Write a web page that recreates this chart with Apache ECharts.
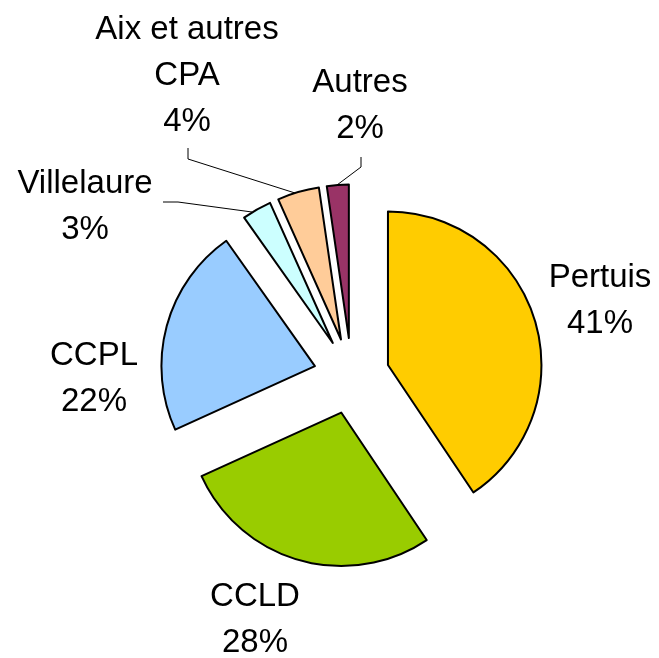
<!DOCTYPE html>
<html>
<head>
<meta charset="utf-8">
<script src="https://cdn.jsdelivr.net/npm/echarts@6/dist/echarts.min.js"></script>
<style>
  html, body { margin: 0; padding: 0; background: #fff; }
  #main { width: 659px; height: 658px; }
</style>
</head>
<body>
<div id="main"></div>
<script>
// slices, clockwise from 12 o'clock (shares)
const names = ['Pertuis', 'CCLD', 'CCPL', 'Villelaure', 'Aix et autres\nCPA', 'Autres']
const values = [40.6, 27.6, 22.0, 3.1, 4.4, 2.3]
const pctLabels = [41, 28, 22, 3, 4, 2]
const colors = ['#FFCC00', '#99CC00', '#99CCFF', '#CCFFFF', '#FFCC99', '#993366']

// label block centres and leader lines (layout only)
const labelPos = [[600, 301], [255, 620], [94, 379], [85, 207], [187, 76], [360, 106]]
const leaders = {
  3: [[252, 212], [178, 202], [163, 202]],
  4: [[295, 193], [188, 159], [188, 148]],
  5: [[337, 185], [361, 167], [361, 157]]
}

const data = names.map((n, i) => ({
  name: n,
  value: values[i],
  selected: true,
  itemStyle: {color: colors[i]}
}))

const graphics = []
names.forEach((n, i) => {
  graphics.push({
    type: 'text',
    x: labelPos[i][0],
    y: labelPos[i][1],
    silent: true,
    style: {
      text: n + '\n' + pctLabels[i] + '%',
      align: 'center',
      verticalAlign: 'middle',
      fontFamily: '"Liberation Sans", Arial, sans-serif',
      fontSize: 33,
      lineHeight: 46,
      fill: '#000'
    }
  })
  if (leaders[i]) {
    graphics.push({
      type: 'polyline',
      silent: true,
      shape: {points: leaders[i]},
      style: {stroke: '#000', lineWidth: 1, fill: null}
    })
  }
})

const chart = echarts.init(document.getElementById('main'))
const option = {
  animation: false,
  graphic: graphics,
  series: [
    {
      type: 'pie',
      center: [351.6, 376],
      radius: 153.5,
      startAngle: 90,
      clockwise: true,
      selectedMode: 'multiple',
      selectedOffset: 38,
      emphasis: {disabled: true},
      label: {show: false},
      labelLine: {show: false},
      data: data,
      itemStyle: {
        borderColor: '#000',
        borderWidth: 2
      }
    }
  ]
}
option && chart.setOption(option)
</script>
</body>
</html>
